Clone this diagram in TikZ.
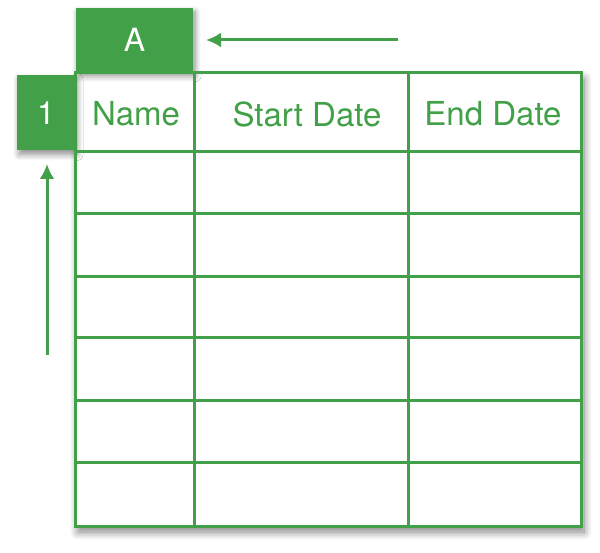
\documentclass[tikz,border=0pt]{standalone}
\usepackage{fontspec}
\setmainfont{TeX Gyre Heros}
\usetikzlibrary{shadows.blur,arrows.meta}
\definecolor{gr}{HTML}{42A048}
\tikzset{
  tab/.style={draw=gr,line width=3pt},
  hdr/.style={fill=gr,blur shadow={shadow blur steps=8,shadow blur radius=6pt,shadow xshift=2pt,shadow yshift=-4pt,shadow opacity=45}},
  lbl/.style={text=gr,font=\fontsize{33}{33}\selectfont},
  wlbl/.style={text=white,font=\fontsize{32}{32}\selectfont},
  arr/.style={draw=gr,line width=3pt,-{Latex[length=15pt,width=15pt]}}
}
\begin{document}
\begin{tikzpicture}[x=1pt,y=-1pt]
\useasboundingbox (0,0) rectangle (600,553);
\fill[white,blur shadow={shadow blur steps=10,shadow blur radius=8pt,shadow xshift=3pt,shadow yshift=-6pt,shadow opacity=50}] (75,73) rectangle (581,526);
\node[hdr,minimum width=117pt,minimum height=64pt,inner sep=0pt] (A) at (134.5,40) {};
\node[hdr,minimum width=58pt,minimum height=75pt,inner sep=0pt] (one) at (46,113) {};
\node[wlbl] at (A.center) {A};
\node[wlbl] at (one.center) {1};
\draw[tab] (75,73) rectangle (581,526);
\draw[tab] (194,73) -- (194,526) (408,73) -- (408,526);
\foreach \y in {152,214,277,338,400,462} \draw[tab] (75,\y) -- (581,\y);
\node[lbl] (n) at (136,114) {Name};
\node[lbl] (s) at (307,114) {Start Date};
\node[lbl] (e) at (493,114) {End Date};
\coordinate (h0) at (398,40);
\coordinate (h1) at (206,40);
\coordinate (v0) at (47,355);
\coordinate (v1) at (47,164);
\draw[arr] (h0) -- (h1);
\draw[arr] (v0) -- (v1);
\end{tikzpicture}
\end{document}
